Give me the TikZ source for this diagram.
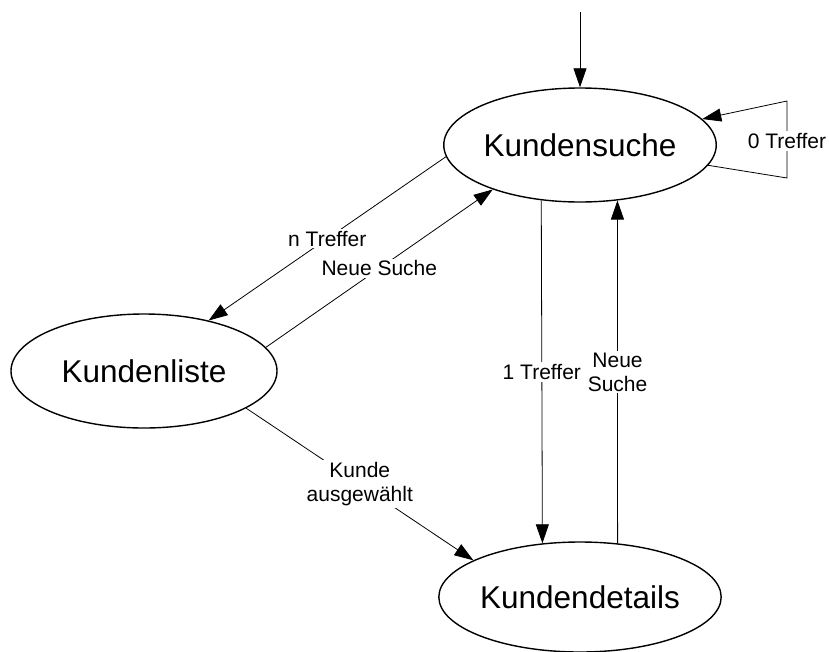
\documentclass[tikz,border=0pt]{standalone}
\usepackage{fontspec}
\setmainfont{Liberation Sans}
\usetikzlibrary{shapes.geometric,arrows.meta}

\tikzset{
  state/.style={draw, ellipse, line width=1.4pt, minimum width=266pt, minimum height=114pt,
                inner sep=0pt, font=\fontsize{31.5}{36}\selectfont},
  trans/.style={line width=0.8pt, -{Triangle[length=19pt,width=13pt]}},
  lbl/.style={fill=white, inner sep=2pt, align=center, font=\fontsize{21}{24}\selectfont}
}

\begin{document}
\begin{tikzpicture}[x=1pt, y=-1pt]
  \useasboundingbox (0,0) rectangle (829,651);

  % states
  \node[state] (ks) at (580,145) {Kundensuche};
  \node[state] (kl) at (144,371) {Kundenliste};
  \node[state, minimum height=110pt] (kd) at (580,597) {Kundendetails};

  % initial transition
  \coordinate (init) at (580,12);
  \draw[trans] (init) -- (ks.north);

  % self loop on Kundensuche
  \coordinate (loopA) at (787,178);
  \coordinate (loopB) at (787,101);
  \draw[trans] (ks.351.4) -- (loopA) -- node[lbl, pos=0.48] {0 Treffer} (loopB) -- (ks.12.3);

  % Kundensuche <-> Kundenliste
  \draw[trans] (ks.185.3) -- node[lbl] {n Treffer} (kl.38.6);
  \draw[trans] (kl.11.0) -- node[lbl] {Neue Suche} (ks.207.4);

  % Kundensuche <-> Kundendetails
  \draw[trans] (ks.235.2) -- node[lbl] {1 Treffer} (kd.125.8);
  \draw[trans] (kd.55.0) -- node[lbl] {Neue\\Suche} (ks.304.1);

  % Kundenliste -> Kundendetails
  \draw[trans] (kl.340.2) -- node[lbl] {Kunde\\ausgewählt} (kd.161.2);
\end{tikzpicture}
\end{document}
